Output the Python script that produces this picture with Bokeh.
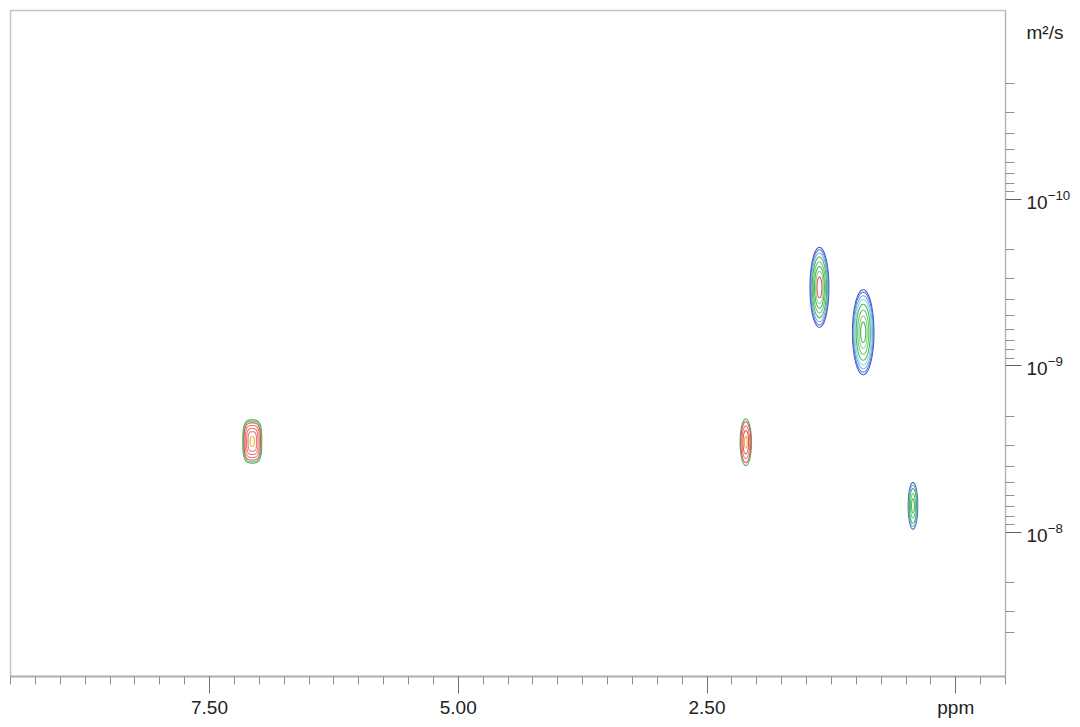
import numpy as np
from bokeh.plotting import figure
from bokeh.models import (Range1d, FixedTicker, LinearAxis, LogAxis, LogTickFormatter,
                          ColumnDataSource)
from bokeh.embed import file_html
from bokeh.resources import INLINE

# ---------------- data ----------------
x_ticks = [7.5, 5.0, 2.5, 0.0]
x_tick_labels = ["7.50", "5.00", "2.50", "ppm"]
x_minor_ticks = [9.5, 9.25, 9.0, 8.75, 8.5, 8.25, 8.0, 7.75, 7.25, 7.0, 6.75, 6.5, 6.25,
                 6.0, 5.75, 5.5, 5.25, 4.75, 4.5, 4.25, 4.0, 3.75, 3.5, 3.25, 3.0, 2.75,
                 2.25, 2.0, 1.75, 1.5, 1.25, 1.0, 0.75, 0.5, 0.25, -0.25, -0.5]
y_ticks = [1e-10, 1e-9, 1e-8]
y_minor_ticks = [2e-11, 3e-11, 4e-11, 5e-11, 6e-11, 7e-11, 8e-11, 9e-11,
                 2e-10, 3e-10, 4e-10, 5e-10, 6e-10, 7e-10, 8e-10, 9e-10,
                 2e-9, 3e-9, 4e-9, 5e-9, 6e-9, 7e-9, 8e-9, 9e-9,
                 2e-8, 3e-8, 4e-8]
y_unit_pos = 1e-11
y_unit_label = "m²/s"

peak_ppm = [7.07, 2.11, 1.37, 0.93, 0.43]           # chemical shift
peak_D = [2.84e-9, 2.87e-9, 3.37e-10, 6.27e-10, 6.92e-9]   # diffusion coeff m2/s
peak_hw_ppm = [0.095, 0.057, 0.095, 0.108, 0.048]   # half width in ppm
peak_hh_dec = [0.130, 0.140, 0.240, 0.255, 0.140]   # half height in decades

# ---------------- contour styling ----------------
BLUE, BLUE2 = "#3646c0", "#5a6ad6"
CYAN, CYAN2 = "#55b6d8", "#88cfe6"
GREEN, GREEN2, GREEN3 = "#38ae46", "#5cbf66", "#7fcc82"
RED, RED2 = "#de4040", "#e86a6a"
ORANGE = "#eea032"

levels = [
    [(1.00, GREEN), (0.94, GREEN2), (0.86, RED), (0.74, RED2), (0.60, RED2),
     (0.45, RED2), (0.22, ORANGE)],
    [(1.00, GREEN), (0.88, RED), (0.70, RED2), (0.50, RED), (0.25, ORANGE)],
    [(1.00, BLUE), (0.94, BLUE2), (0.86, CYAN), (0.76, GREEN), (0.64, GREEN2),
     (0.52, GREEN), (0.40, GREEN3), (0.26, RED)],
    [(1.00, BLUE), (0.94, BLUE2), (0.86, CYAN), (0.77, CYAN2), (0.66, GREEN), (0.52, GREEN2),
     (0.38, GREEN3), (0.24, GREEN)],
    [(1.00, BLUE), (0.88, CYAN), (0.74, GREEN), (0.52, GREEN2), (0.30, GREEN)],
]
shape_exp = [3.2, 2.0, 2.0, 2.0, 2.0]

t = np.linspace(0, 2 * np.pi, 121)
xs, ys, cols = [], [], []
for cx, d, hw, hh, lev, n in zip(peak_ppm, peak_D, peak_hw_ppm, peak_hh_dec, levels, shape_exp):
    c, s = np.cos(t), np.sin(t)
    ux = np.sign(c) * np.abs(c) ** (2.0 / n)
    uy = np.sign(s) * np.abs(s) ** (2.0 / n)
    for f, col in lev:
        xs.append(list(cx + hw * f * ux))
        ys.append(list(10 ** (np.log10(d) + hh * f * uy)))
        cols.append(col)
src = ColumnDataSource(dict(xs=xs, ys=ys, color=cols))

# ---------------- figure ----------------
FONT = "Liberation Sans"
p = figure(frame_width=995, frame_height=666,
           x_range=Range1d(9.5, -0.5), y_range=Range1d(10 ** -7.135, 10 ** -11.135),
           y_axis_type="log", y_axis_location="right", x_axis_location=None,
           output_backend="svg", toolbar_location=None,
           min_border_left=10, min_border_top=10, min_border_right=65, min_border_bottom=40)
p.background_fill_color = "white"
p.border_fill_color = "white"
p.outline_line_color = "#c4c4c4"
p.outline_line_width = 1.5
for g in p.grid:
    g.visible = False

p.multi_line("xs", "ys", line_color="color", line_width=1.1, line_alpha=0.9, source=src)

# spacer axis (dark frame bottom)
spacer = LinearAxis(ticker=FixedTicker(ticks=[]), axis_line_color="#7a7a7a", axis_line_width=1.5,
                    major_tick_out=4, major_tick_in=0, minor_tick_out=0, minor_tick_in=0,
                    major_tick_line_color=None, minor_tick_line_color=None,
                    major_label_text_font_size="0px", major_label_standoff=0)
p.add_layout(spacer, "below")

xaxis = LinearAxis(ticker=FixedTicker(ticks=x_ticks, minor_ticks=x_minor_ticks),
                   major_label_overrides={k: v for k, v in zip(x_ticks, x_tick_labels)},
                   axis_line_color="#b0b0b0", axis_line_width=1,
                   major_tick_line_color="#707070", minor_tick_line_color="#909090",
                   major_tick_out=17, major_tick_in=0, minor_tick_out=8, minor_tick_in=0,
                   major_label_standoff=3, major_label_text_font=FONT,
                   major_label_text_font_size="19px", major_label_text_color="#222222")
p.add_layout(xaxis, "below")

# right axis 1: tick marks only
ya = p.yaxis[0]
ya.ticker = FixedTicker(ticks=y_ticks, minor_ticks=y_minor_ticks)
ya.formatter = LogTickFormatter()
ya.axis_line_color = "#b0b0b0"
ya.major_tick_line_color = "#606060"
ya.minor_tick_line_color = "#909090"
ya.major_tick_out = 16
ya.major_tick_in = 0
ya.minor_tick_out = 9
ya.minor_tick_in = 0
ya.major_label_standoff = 0
ya.major_label_text_font_size = "0px"
ya.major_label_text_alpha = 0

# right axis 2: labels (incl. unit label at the top)
ylab = LogAxis(ticker=FixedTicker(ticks=[y_unit_pos] + y_ticks, minor_ticks=[]),
               formatter=LogTickFormatter(),
               major_label_overrides={y_unit_pos: y_unit_label},
               axis_line_color=None, major_tick_line_color=None, minor_tick_line_color=None,
               major_tick_out=0, major_tick_in=0, minor_tick_out=0, minor_tick_in=0,
               major_label_standoff=5, major_label_text_font=FONT,
               major_label_text_font_size="19px", major_label_text_color="#222222")
p.add_layout(ylab, "right")

open("out.html", "w").write(file_html(p, INLINE))
